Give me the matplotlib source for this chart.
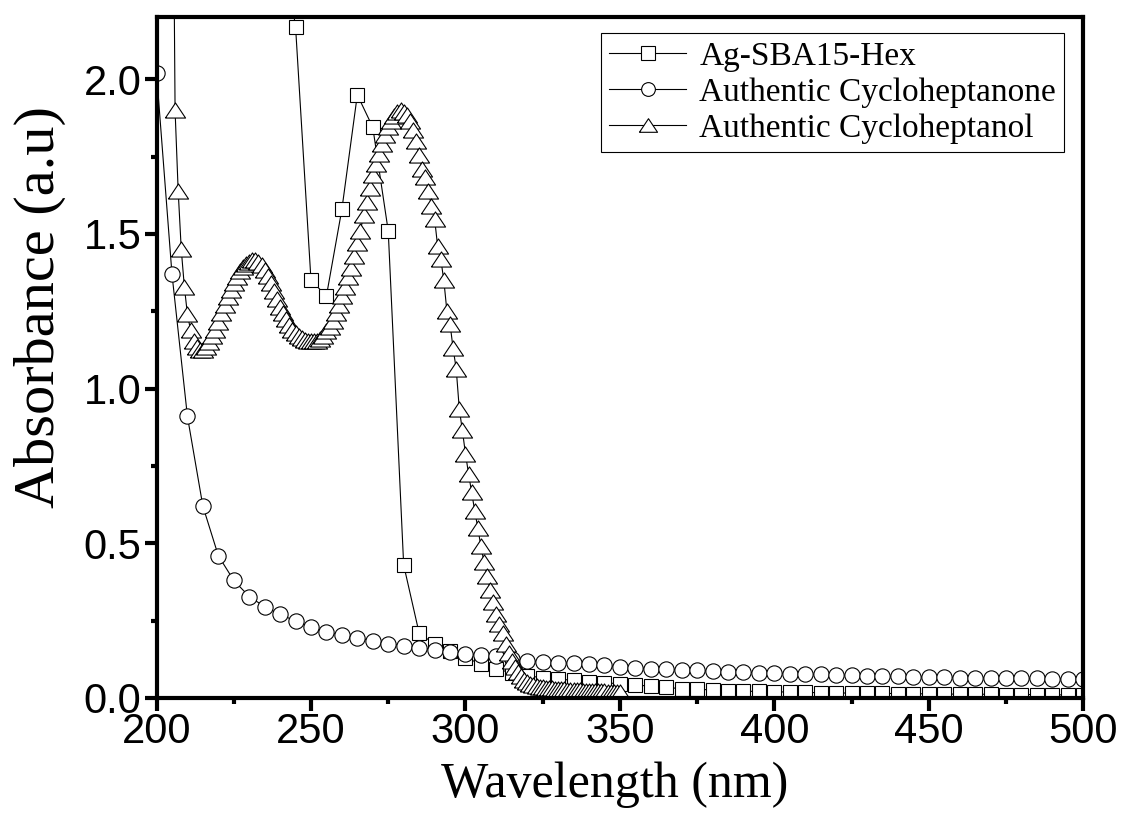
import matplotlib
matplotlib.use("Agg")
import matplotlib.pyplot as plt
from matplotlib.ticker import MultipleLocator
import numpy as np

# Ag-SBA15-Hex (squares, every 5 nm)
wl_hex = np.arange(200, 505, 5)
abs_hex = [3.6, 3.6, 3.5, 3.4, 3.3, 3.2, 3.0, 2.8, 2.5, 2.17,
           1.35, 1.30, 1.58, 1.95, 1.845, 1.51, 0.43, 0.21, 0.174, 0.152,
           0.130, 0.110, 0.094, 0.081, 0.071, 0.066, 0.061, 0.057, 0.053, 0.049,
           0.046, 0.042, 0.038, 0.034, 0.030, 0.028, 0.026, 0.024, 0.022, 0.021,
           0.020, 0.019, 0.018, 0.017, 0.016, 0.016, 0.015, 0.015, 0.014, 0.014,
           0.013, 0.013, 0.012, 0.012, 0.012, 0.011, 0.011, 0.011, 0.010, 0.010,
           0.010]

# Authentic Cycloheptanone (circles, every 5 nm)
wl_one = np.arange(200, 505, 5)
abs_one = [2.02, 1.37, 0.91, 0.62, 0.46, 0.38, 0.328, 0.295, 0.27, 0.249,
           0.230, 0.213, 0.203, 0.195, 0.184, 0.175, 0.169, 0.162, 0.156, 0.149,
           0.143, 0.139, 0.135, 0.127, 0.120, 0.117, 0.114, 0.112, 0.110, 0.105,
           0.100, 0.097, 0.095, 0.093, 0.091, 0.089, 0.087, 0.085, 0.083, 0.082,
           0.080, 0.079, 0.077, 0.076, 0.075, 0.073, 0.072, 0.071, 0.070, 0.069,
           0.068, 0.067, 0.066, 0.066, 0.065, 0.064, 0.063, 0.063, 0.062, 0.062,
           0.061]

# Authentic Cycloheptanol (triangles, every 1 nm)
wl_ol = np.arange(205, 351, 1)
abs_ol = [3.2, 1.90, 1.64, 1.45, 1.33, 1.24, 1.19, 1.155, 1.135, 1.125,
          1.125, 1.135, 1.15, 1.17, 1.19, 1.215, 1.245, 1.27, 1.295, 1.32,
          1.34, 1.36, 1.38, 1.393, 1.403, 1.41, 1.415, 1.415, 1.41, 1.40,
          1.385, 1.365, 1.34, 1.315, 1.29, 1.265, 1.245, 1.225, 1.205, 1.19,
          1.18, 1.17, 1.163, 1.158, 1.155, 1.153, 1.153, 1.155, 1.16, 1.17,
          1.185, 1.20, 1.22, 1.245, 1.27, 1.30, 1.33, 1.36, 1.39, 1.43,
          1.47, 1.51, 1.56, 1.605, 1.65, 1.69, 1.725, 1.76, 1.79, 1.82,
          1.845, 1.865, 1.88, 1.895, 1.90, 1.895, 1.885, 1.865, 1.835, 1.80,
          1.755, 1.71, 1.685, 1.64, 1.59, 1.55, 1.46, 1.42, 1.35, 1.25,
          1.21, 1.13, 1.065, 0.935, 0.865, 0.79, 0.725, 0.665, 0.605, 0.55,
          0.49, 0.44, 0.395, 0.35, 0.31, 0.27, 0.24, 0.21, 0.175, 0.145,
          0.12, 0.10, 0.085, 0.07, 0.058, 0.05, 0.045, 0.041, 0.038, 0.036,
          0.034, 0.033, 0.032, 0.031, 0.030, 0.029, 0.028, 0.028, 0.027, 0.026,
          0.026, 0.025, 0.025, 0.024, 0.024, 0.023, 0.023, 0.022, 0.022, 0.021,
          0.021, 0.020, 0.020, 0.019, 0.019, 0.018]

labels = ["Ag-SBA15-Hex", "Authentic Cycloheptanone", "Authentic Cycloheptanol"]

# wide triangle like the original (about 4:3)
tri = [(-1.0, -0.75), (1.0, -0.75), (0.0, 0.75), (-1.0, -0.75)]

fig = plt.figure(figsize=(11.27, 8.13), dpi=100)
ax = fig.add_axes([0.1389, 0.1415, 0.8223, 0.837])

style = dict(color="black", lw=0.8, markerfacecolor="white",
             markeredgecolor="black", markeredgewidth=0.8)
ax.plot(wl_hex, abs_hex, marker="s", markersize=10.5, label=labels[0], **style)
ax.plot(wl_one, abs_one, marker="o", markersize=11, label=labels[1], **style)
ax.plot(wl_ol, abs_ol, marker=tri, markersize=14.5, label=labels[2], **style)

ax.set_xlim(200, 500)
ax.set_ylim(0, 2.2)
ax.xaxis.set_major_locator(MultipleLocator(50))
ax.xaxis.set_minor_locator(MultipleLocator(25))
ax.yaxis.set_major_locator(MultipleLocator(0.5))
ax.yaxis.set_minor_locator(MultipleLocator(0.25))
ax.yaxis.set_major_formatter(matplotlib.ticker.FormatStrFormatter("%.1f"))

for s in ax.spines.values():
    s.set_linewidth(3)
ax.tick_params(which="both", direction="out", top=False, right=False, width=3)
ax.tick_params(which="major", length=9, labelsize=30)
ax.tick_params(which="minor", length=4.5)
ax.tick_params(axis="x", which="major", pad=1)
ax.tick_params(axis="y", which="major", pad=2)
for lab in ax.get_xticklabels() + ax.get_yticklabels():
    lab.set_family("Liberation Sans")

fig.text(615 / 1127, 1 - 785 / 813, "Wavelength (nm)", ha="center", va="center",
         family="Liberation Serif", fontsize=36)
fig.text(40 / 1127, 1 - 307 / 813, "Absorbance (a.u)", ha="center", va="center",
         rotation=90, family="Liberation Serif", fontsize=42)

leg = ax.legend(loc="upper left", bbox_to_anchor=(601 / 1127, 1 - 33 / 813),
                bbox_transform=fig.transFigure, borderaxespad=0,
                prop={"family": "Liberation Serif", "size": 24},
                frameon=True, fancybox=False, edgecolor="black",
                framealpha=1, labelspacing=0.17, handlelength=2.3,
                handletextpad=0.4, borderpad=0.25, markerscale=0.9)
leg.get_frame().set_linewidth(0.8)

fig.savefig("out.png", dpi=100)
